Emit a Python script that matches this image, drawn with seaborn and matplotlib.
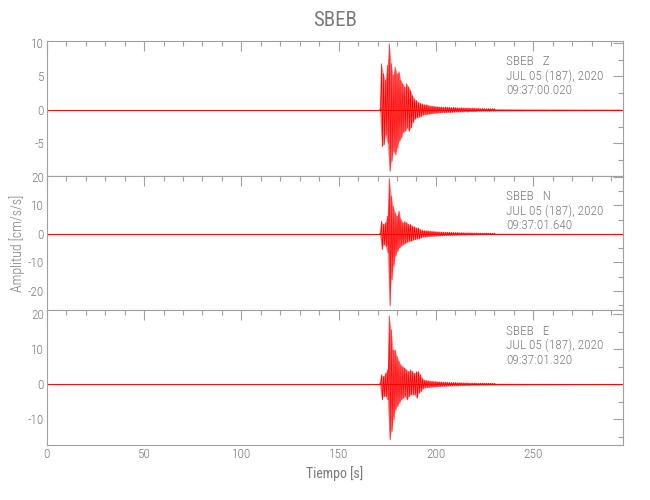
import numpy as np
import matplotlib
matplotlib.use("Agg")
import matplotlib.pyplot as plt
import matplotlib.transforms as mtransforms
from matplotlib.ticker import MultipleLocator
import seaborn as sns

# ------------------------------------------------------------------
# Datos leidos del registro (envolvente max/min por segundo, cm/s/s)
# ------------------------------------------------------------------
estacion = "SBEB"
componentes = ["Z", "N", "E"]
fecha = "JUL 05 (187), 2020"
horas = ["09:37:00.020", "09:37:01.640", "09:37:01.320"]

t_fin = 296.0
t_activo = np.arange(171, 231)          # 171 ... 230 s, un valor por segundo
t_cola = np.arange(235, 300, 5)          # 235 ... 295 s

sup_z = [0.15, 6.9, 5.4, 4.4, 6.7, 9.85, 6.9, 5.2, 6.4, 5.4,
         5.7, 4.4, 3.9, 3.4, 3.9, 3.4, 2.9, 2.1, 1.6, 1.4,
         1.1, 1.0, 0.9, 0.8, 0.8, 0.7, 0.6, 0.6, 0.55, 0.5,
         0.5, 0.45, 0.45, 0.4, 0.45, 0.4, 0.4, 0.35, 0.4, 0.35,
         0.35, 0.3, 0.35, 0.3, 0.3, 0.3, 0.3, 0.25, 0.3, 0.25,
         0.25, 0.25, 0.2, 0.25, 0.2, 0.2, 0.2, 0.2, 0.2, 0.2]
inf_z = [-0.15, -5.5, -5.2, -3.7, -5.0, -9.2, -7.7, -6.2, -6.7, -5.7,
         -4.7, -4.2, -3.4, -3.2, -2.7, -3.2, -2.7, -1.9, -1.4, -1.2,
         -1.1, -1.0, -0.8, -0.7, -0.7, -0.65, -0.6, -0.55, -0.5, -0.5,
         -0.45, -0.45, -0.4, -0.4, -0.4, -0.35, -0.4, -0.35, -0.35, -0.3,
         -0.3, -0.3, -0.3, -0.3, -0.25, -0.3, -0.25, -0.25, -0.25, -0.25,
         -0.2, -0.2, -0.2, -0.2, -0.2, -0.2, -0.2, -0.18, -0.18, -0.18]
cola_z = [0.18, 0.17, 0.16, 0.15, 0.15, 0.14, 0.14, 0.13, 0.13, 0.12, 0.12, 0.12, 0.12]

sup_n = [0.2, 4.4, 3.3, 3.9, 6.2, 19.3, 13.2, 9.7, 7.4, 6.2,
         8.0, 5.0, 3.9, 4.4, 3.9, 3.3, 3.3, 2.7, 2.5, 2.1,
         2.1, 1.5, 1.3, 1.2, 1.1, 1.1, 1.0, 0.9, 0.9, 0.8,
         0.75, 0.7, 0.7, 0.65, 0.6, 0.6, 0.6, 0.55, 0.5, 0.5,
         0.5, 0.45, 0.45, 0.45, 0.4, 0.4, 0.4, 0.4, 0.35, 0.35,
         0.35, 0.3, 0.3, 0.3, 0.3, 0.3, 0.25, 0.25, 0.25, 0.25]
inf_n = [-0.2, -5.5, -3.7, -4.3, -6.7, -25.1, -16.0, -11.3, -7.8, -6.1,
         -4.9, -4.3, -3.7, -3.4, -3.0, -2.6, -2.6, -2.2, -2.0, -1.8,
         -1.8, -1.4, -1.1, -1.1, -1.0, -0.95, -0.9, -0.85, -0.8, -0.75,
         -0.7, -0.7, -0.65, -0.6, -0.6, -0.55, -0.55, -0.5, -0.5, -0.45,
         -0.45, -0.45, -0.4, -0.4, -0.4, -0.35, -0.35, -0.35, -0.35, -0.3,
         -0.3, -0.3, -0.3, -0.3, -0.25, -0.25, -0.25, -0.25, -0.25, -0.25]
cola_n = [0.22, 0.2, 0.2, 0.18, 0.18, 0.17, 0.16, 0.16, 0.15, 0.15, 0.15, 0.14, 0.14]

sup_e = [0.2, 2.7, 2.2, 3.1, 4.1, 19.5, 15.5, 9.8, 9.8, 7.9,
         6.5, 5.5, 5.0, 4.6, 4.1, 3.6, 4.1, 3.6, 3.1, 3.6,
         3.6, 2.7, 1.7, 1.2, 1.1, 1.0, 0.9, 0.9, 0.8, 0.8,
         0.7, 0.7, 0.65, 0.6, 0.6, 0.55, 0.55, 0.5, 0.5, 0.5,
         0.45, 0.45, 0.45, 0.4, 0.4, 0.4, 0.35, 0.35, 0.35, 0.35,
         0.3, 0.3, 0.3, 0.3, 0.3, 0.3, 0.3, 0.28, 0.28, 0.28]
inf_e = [-0.2, -4.5, -3.5, -3.5, -4.5, -15.9, -13.5, -10.2, -7.3, -6.4,
         -5.4, -4.5, -4.0, -3.5, -4.5, -3.5, -3.0, -3.0, -3.0, -4.0,
         -2.6, -2.1, -1.4, -1.1, -1.0, -0.95, -0.9, -0.85, -0.8, -0.75,
         -0.7, -0.65, -0.6, -0.6, -0.55, -0.55, -0.5, -0.5, -0.45, -0.45,
         -0.45, -0.4, -0.4, -0.4, -0.35, -0.35, -0.35, -0.3, -0.3, -0.3,
         -0.3, -0.3, -0.28, -0.28, -0.28, -0.25, -0.25, -0.25, -0.25, -0.25]
cola_e = [0.25, 0.24, 0.22, 0.2, 0.2, 0.19, 0.18, 0.18, 0.17, 0.17, 0.16, 0.16, 0.16]

limites_y = [(-9.85, 10.3), (-26.7, 20.3), (-17.4, 21.1)]
paso_mayor_y = [5, 10, 10]

# ------------------------------------------------------------------
sns.set_theme(style="white")
plt.rcParams["font.family"] = ["DejaVu Sans Condensed", "Roboto Condensed", "DejaVu Sans"]
plt.rcParams["font.stretch"] = "condensed"
plt.rcParams["font.weight"] = "light"
plt.rcParams["axes.unicode_minus"] = False

gris_txt = "#7a7a7a"
gris_eje = "#a0a0a0"

fig, axes = plt.subplots(3, 1, figsize=(6.5, 5), dpi=100, sharex=True)
fig.subplots_adjust(left=0.072, right=0.958, top=0.918, bottom=0.11, hspace=0)

datos = [(sup_z, inf_z, cola_z), (sup_n, inf_n, cola_n), (sup_e, inf_e, cola_e)]

for i, ax in enumerate(axes):
    sup, inf, cola = (np.asarray(v) for v in datos[i])

    # nivel base antes y despues del evento
    sns.lineplot(x=[0.0, t_fin], y=[0.0, 0.0], ax=ax, color="red", lw=0.7,
                 estimator=None, sort=False)

    # envolvente completa en rojo
    t_env = np.concatenate([t_activo, t_cola])
    ax.fill_between(t_env, np.concatenate([inf, -cola]),
                    np.concatenate([sup, cola]), color="red", alpha=0.5, lw=0)

    # traza: alterna maximo y minimo de cada segundo
    x_traza = np.column_stack([t_activo, t_activo + 0.5]).ravel()
    y_traza = np.column_stack([sup, inf]).ravel()
    sns.lineplot(x=x_traza, y=y_traza, ax=ax, color="red", lw=0.5,
                 estimator=None, sort=False)

    ax.set_xlim(0, t_fin)
    ax.set_ylim(*limites_y[i])
    ax.xaxis.set_major_locator(MultipleLocator(50))
    ax.xaxis.set_minor_locator(MultipleLocator(10))
    ax.yaxis.set_major_locator(MultipleLocator(paso_mayor_y[i]))
    ax.yaxis.set_minor_locator(MultipleLocator(paso_mayor_y[i] / 2))
    ax.tick_params(which="both", direction="in", top=True, right=True,
                   color=gris_eje, width=0.8, labelcolor=gris_txt, labelsize=9.5,
                   pad=2)
    ax.tick_params(which="major", length=7)
    ax.tick_params(which="minor", length=3.5)
    for sp in ax.spines.values():
        sp.set_color(gris_eje)
        sp.set_linewidth(0.8)
    ax.set_ylabel("")
    ax.set_xlabel("")

    trans = mtransforms.blended_transform_factory(ax.transData, ax.transAxes)
    lineas = [f"{estacion}   {componentes[i]}", fecha, horas[i]]
    for k, linea in enumerate(lineas):
        ax.text(236, 0.845 - 0.108 * k, linea, transform=trans,
                ha="left", va="center", fontsize=9.5, color=gris_txt)

for ax in axes[:-1]:
    ax.tick_params(labelbottom=False)

axes[-1].set_xlabel("Tiempo [s]", fontsize=10, color=gris_txt, labelpad=4)
fig.text(0.027, 1 - 243 / 500, "Amplitud [cm/s/s]", rotation=90,
         ha="center", va="center", fontsize=10, color=gris_txt)
fig.suptitle(estacion, x=0.515, y=0.958, va="center", fontsize=15, color=gris_txt)

fig.savefig("out.png", dpi=100)
